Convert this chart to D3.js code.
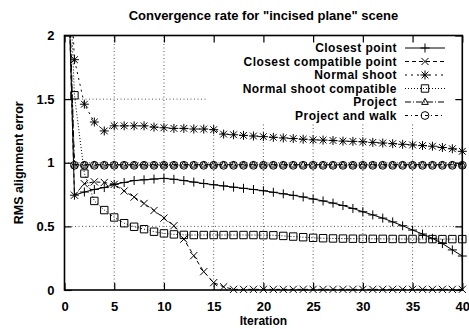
<!DOCTYPE html>
<html><head><meta charset="utf-8">
<script src="https://cdn.jsdelivr.net/npm/d3@7"></script>
<style>
html,body{margin:0;padding:0;background:#fff;}
text{font-family:"Liberation Sans",Arial,sans-serif;font-weight:bold;fill:#000;}
</style></head>
<body><svg id="chart" width="469" height="329"></svg>
<script>
const iterations = [0,1,2,3,4,5,6,7,8,9,10,11,12,13,14,15,16,17,18,19,20,21,22,23,24,25,26,27,28,29,30,31,32,33,34,35,36,37,38,39,40];
const closestPoint = [3.5,0.745,0.77,0.79,0.805,0.83,0.845,0.86,0.866,0.872,0.877,0.87,0.86,0.848,0.837,0.827,0.818,0.808,0.799,0.79,0.78,0.768,0.756,0.744,0.731,0.715,0.70,0.683,0.664,0.641,0.615,0.59,0.565,0.535,0.505,0.471,0.44,0.406,0.365,0.315,0.267];
const closestCompatible = [3.5,0.745,0.835,0.85,0.845,0.83,0.778,0.73,0.68,0.625,0.565,0.505,0.40,0.27,0.144,0.058,0.025,0.005,0.005,0.005,0.005,0.005,0.005,0.005,0.005,0.005,0.005,0.005,0.005,0.005,0.005,0.005,0.005,0.005,0.005,0.005,0.005,0.005,0.005,0.005,0.005];
const normalShoot = [3.5,1.81,1.46,1.32,1.25,1.29,1.29,1.29,1.29,1.28,1.275,1.27,1.27,1.265,1.265,1.26,1.225,1.22,1.215,1.21,1.205,1.2,1.195,1.19,1.185,1.18,1.178,1.175,1.17,1.168,1.165,1.16,1.155,1.15,1.145,1.14,1.135,1.13,1.12,1.11,1.09];
const normalShootCompatible = [3.5,1.53,0.915,0.70,0.628,0.57,0.525,0.497,0.478,0.458,0.445,0.437,0.433,0.432,0.432,0.432,0.432,0.432,0.432,0.432,0.431,0.43,0.425,0.42,0.415,0.41,0.407,0.405,0.404,0.403,0.403,0.402,0.402,0.401,0.401,0.401,0.4,0.4,0.4,0.4,0.4];
const project = [3.5,0.985,0.985,0.985,0.985,0.985,0.985,0.985,0.985,0.985,0.985,0.985,0.985,0.985,0.985,0.985,0.985,0.985,0.985,0.985,0.985,0.985,0.985,0.985,0.985,0.985,0.985,0.985,0.985,0.985,0.985,0.985,0.985,0.985,0.985,0.985,0.985,0.985,0.985,0.985,0.985];
const projectAndWalk = [3.5,0.98,0.98,0.98,0.98,0.98,0.98,0.98,0.98,0.98,0.98,0.98,0.98,0.98,0.98,0.98,0.98,0.98,0.98,0.98,0.98,0.98,0.98,0.98,0.98,0.98,0.98,0.98,0.98,0.98,0.98,0.98,0.98,0.98,0.98,0.98,0.98,0.98,0.98,0.98,0.98];
const seriesNames = ["Closest point","Closest compatible point","Normal shoot","Normal shoot compatible","Project","Project and walk"];
const xTicks = [0,5,10,15,20,25,30,35,40];
const yTicks = [0,0.5,1,1.5,2];
const yTickLabels = ["0","0.5","1","1.5","2"];
const title = 'Convergence rate for "incised plane" scene';
const xLabel = "Iteration";
const yLabel = "RMS alignment error";

const seriesValues = [closestPoint, closestCompatible, normalShoot, normalShootCompatible, project, projectAndWalk];
const dashes = [null, "4,3", "2,4", "1,2", "6,2,1,2", "3,3,1,3"];
const markers = ["plus","cross","star","square","triangle","circle"];

const svg = d3.select("#chart");
const L = 64.5, R = 462.3, T = 35.5, B = 290;
const x = d3.scaleLinear().domain([0,40]).range([L,R]);
const y = d3.scaleLinear().domain([0,2]).range([B,T]);

svg.append("defs").append("clipPath").attr("id","clip")
  .append("rect").attr("x",L).attr("y",T).attr("width",R-L).attr("height",B-T);

// grid
const grid = svg.append("g").attr("stroke","#444").attr("stroke-width",0.9).attr("stroke-dasharray","1,2.5");
xTicks.filter(t=>t>0&&t<40).forEach(t=>grid.append("line").attr("x1",x(t)).attr("x2",x(t)).attr("y1",B).attr("y2",T));
yTicks.filter(t=>t>0&&t<2).forEach(t=>grid.append("line").attr("x1",L).attr("x2",R).attr("y1",y(t)).attr("y2",y(t)));

// opaque key area
svg.append("rect").attr("x",207).attr("y",T+0.5).attr("width",R-207).attr("height",86).attr("fill","#fff");

// axes with mirrored inward ticks
const tl = 7;
const xAxisB = d3.axisBottom(x).tickValues(xTicks).tickSizeInner(-tl).tickSizeOuter(0).tickPadding(12).tickFormat(d3.format("d"));
const xAxisT = d3.axisTop(x).tickValues(xTicks).tickSizeInner(-tl).tickSizeOuter(0).tickFormat("");
const yAxisL = d3.axisLeft(y).tickValues(yTicks).tickSizeInner(-tl).tickSizeOuter(0).tickPadding(10).tickFormat((d,i)=>yTickLabels[i]);
const yAxisR = d3.axisRight(y).tickValues(yTicks).tickSizeInner(-tl).tickSizeOuter(0).tickFormat("");
function styleAxis(g){
  g.select(".domain").remove();
  g.selectAll(".tick line").attr("stroke","#000").attr("stroke-width",1.2);
  g.selectAll(".tick text").style("font-size","13px").style("font-family","'Liberation Sans',Arial,sans-serif").style("font-weight","bold");
}
svg.append("g").attr("transform",`translate(0,${B})`).call(xAxisB).call(styleAxis);
svg.append("g").attr("transform",`translate(0,${T})`).call(xAxisT).call(styleAxis);
svg.append("g").attr("transform",`translate(${L},0)`).call(yAxisL).call(styleAxis);
svg.append("g").attr("transform",`translate(${R},0)`).call(yAxisR).call(styleAxis);

// border
svg.append("rect").attr("x",L).attr("y",T).attr("width",R-L).attr("height",B-T)
  .attr("fill","none").attr("stroke","#000").attr("stroke-width",1.6);

function markerPath(type){
  switch(type){
    case "plus": return "M-4.5,0H4.5M0,-4.5V4.5";
    case "cross": return "M-3.6,-3.6L3.6,3.6M-3.6,3.6L3.6,-3.6";
    case "star": return "M-4.5,0H4.5M0,-4.5V4.5M-3.4,-3.4L3.4,3.4M-3.4,3.4L3.4,-3.4";
    case "square": return "M-3.7,-3.7H3.7V3.7H-3.7Z";
    case "triangle": return "M0,-3.6L3.3,2.4H-3.3Z";
    case "circle": return "M-3.9,0A3.9,3.9 0 1,0 3.9,0A3.9,3.9 0 1,0 -3.9,0Z";
  }
}

const line = d3.line().x((d,i)=>x(iterations[i])).y(d=>y(d));
const plot = svg.append("g");
seriesValues.forEach((vals,si)=>{
  plot.append("path").attr("d",line(vals)).attr("clip-path","url(#clip)")
    .attr("fill","none").attr("stroke","#000").attr("stroke-width",1)
    .attr("stroke-dasharray",dashes[si]);
  const pts = vals.map((v,i)=>[iterations[i],v]).filter(p=>p[1]<=2);
  plot.append("g").selectAll("path").data(pts).join("path")
    .attr("transform",p=>`translate(${x(p[0])},${y(p[1])})`)
    .attr("d",markerPath(markers[si])).attr("fill","none").attr("stroke","#000").attr("stroke-width",1);
});

// legend
const leg = svg.append("g");
seriesNames.forEach((name,i)=>{
  const yy = 48 + i*13.5;
  leg.append("text").attr("x",397).attr("y",yy).attr("dy","0.35em").attr("text-anchor","end")
    .style("font-size","12px").style("letter-spacing","0.45px").text(name);
  leg.append("line").attr("x1",405).attr("x2",445).attr("y1",yy).attr("y2",yy)
    .attr("stroke","#000").attr("stroke-width",1).attr("stroke-dasharray",dashes[i]);
  leg.append("path").attr("transform",`translate(425,${yy})`).attr("d",markerPath(markers[i]))
    .attr("fill","none").attr("stroke","#000").attr("stroke-width",1);
});

// titles
svg.append("text").attr("x",(L+R)/2).attr("y",20).attr("text-anchor","middle").style("font-size","13px").text(title);
svg.append("text").attr("x",(L+R)/2).attr("y",325).attr("text-anchor","middle").style("font-size","12px").text(xLabel);
svg.append("text").attr("transform",`translate(23,${(T+B)/2}) rotate(-90)`).attr("text-anchor","middle").style("font-size","12.5px").text(yLabel);
</script></body></html>
